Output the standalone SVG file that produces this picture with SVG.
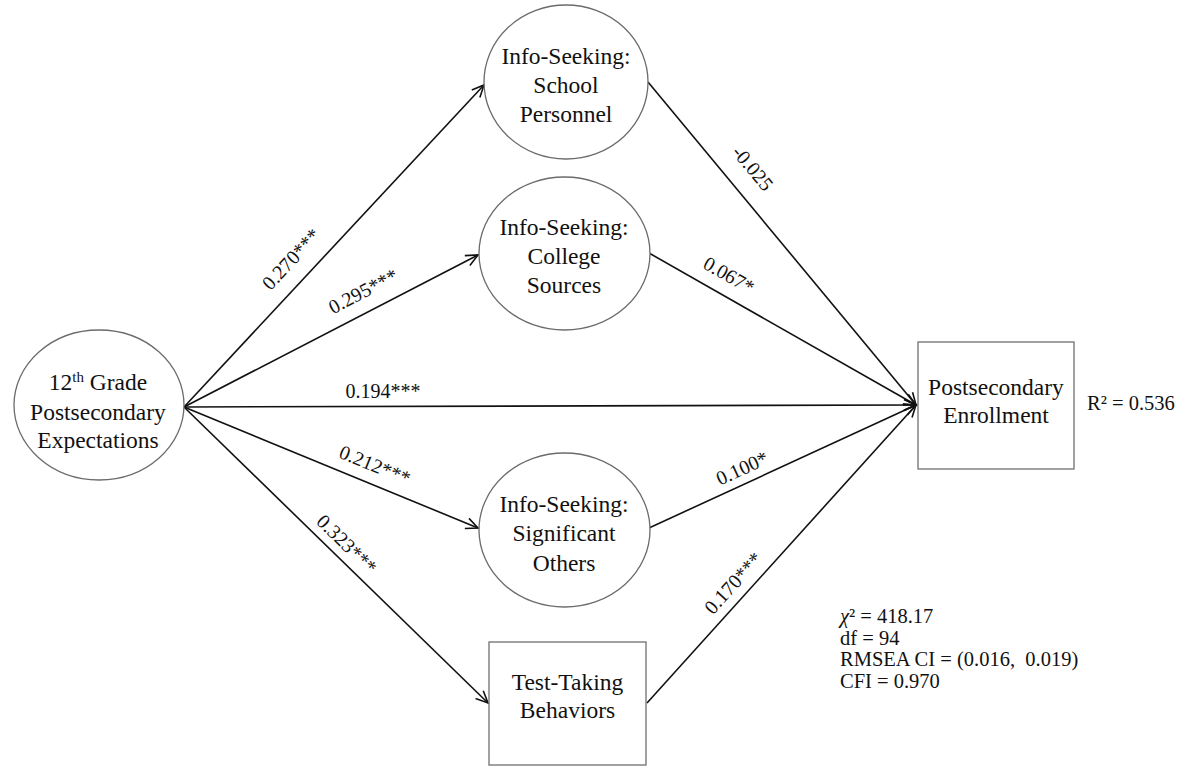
<svg xmlns="http://www.w3.org/2000/svg" width="1194" height="768" viewBox="0 0 1194 768">
  <style>
    .node { fill: #fff; stroke: #6b6b6b; stroke-width: 1.3; }
    .box { fill: #fff; stroke: #7a7a7a; stroke-width: 1.4; }
    .name { font-family: "Liberation Serif", "Times New Roman", serif; font-size: 23.5px; fill: #111; text-anchor: middle; }
    .path { stroke: #111; stroke-width: 1.6; fill: none; marker-end: url(#arrow); }
    .coef { font-family: "Liberation Serif", "Times New Roman", serif; font-size: 20px; fill: #111; text-anchor: middle; }
    .stat { font-family: "Liberation Serif", "Times New Roman", serif; font-size: 20.5px; fill: #111; }
  </style>
  <defs>
    <marker id="arrow" viewBox="-14 -7 16 14" refX="0" refY="0" markerWidth="16" markerHeight="14" markerUnits="userSpaceOnUse" orient="auto">
      <path d="M -12,-5.5 L 0,0 L -12,5.5" fill="none" stroke="#111" stroke-width="1.6"/>
    </marker>
  </defs>
  <rect width="1194" height="768" fill="#fff"/>

  <!-- structural paths -->
  <g id="connectors">
    <line class="path" x1="184" y1="407" x2="484" y2="85"/>
    <line class="path" x1="184" y1="407" x2="478" y2="255"/>
    <line class="path" x1="184" y1="407" x2="916" y2="405"/>
    <line class="path" x1="184" y1="407" x2="478" y2="528"/>
    <line class="path" x1="184" y1="407" x2="488" y2="703"/>
    <line class="path" x1="648" y1="82" x2="916" y2="405"/>
    <line class="path" x1="649" y1="253" x2="916" y2="405"/>
    <line class="path" x1="649" y1="528" x2="916" y2="405"/>
    <line class="path" x1="647" y1="703" x2="916" y2="405"/>

    <!-- path coefficients -->
    <text class="coef" transform="translate(291,259) rotate(-47.1)" y="7">0.270***</text>
    <text class="coef" transform="translate(363,291) rotate(-27.3)" y="7">0.295***</text>
    <text class="coef" x="383" y="398">0.194***</text>
    <text class="coef" transform="translate(375,465) rotate(22.2)" y="7">0.212***</text>
    <text class="coef" transform="translate(347,544) rotate(44.2)" y="7">0.323***</text>
    <text class="coef" transform="translate(753,168) rotate(50.2)" y="7">-0.025</text>
    <text class="coef" transform="translate(729,275) rotate(29.6)" y="7">0.067*</text>
    <text class="coef" transform="translate(742,468) rotate(-24.7)" y="7">0.100*</text>
    <text class="coef" transform="translate(733,583) rotate(-47.8)" y="7">0.170***</text>
  </g>

  <g id="expectations">
    <ellipse class="node" cx="99" cy="405" rx="85" ry="75"/>
    <text class="name" x="98" y="390">12<tspan font-size="15" dy="-8">th</tspan><tspan dy="8"> Grade</tspan></text>
    <text class="name" x="98" y="420">Postsecondary</text>
    <text class="name" x="98" y="448">Expectations</text>
  </g>

  <g id="school-personnel">
    <ellipse class="node" cx="566" cy="82" rx="82" ry="77"/>
    <text class="name" x="566" y="64">Info-Seeking:</text>
    <text class="name" x="566" y="93">School</text>
    <text class="name" x="566" y="122">Personnel</text>
  </g>

  <g id="college-sources">
    <ellipse class="node" cx="564.5" cy="253.5" rx="85.5" ry="76.5"/>
    <text class="name" x="564" y="235">Info-Seeking:</text>
    <text class="name" x="564" y="264">College</text>
    <text class="name" x="564" y="293">Sources</text>
  </g>

  <g id="significant-others">
    <ellipse class="node" cx="564.5" cy="530" rx="85.5" ry="77"/>
    <text class="name" x="564" y="512">Info-Seeking:</text>
    <text class="name" x="564" y="541">Significant</text>
    <text class="name" x="564" y="571">Others</text>
  </g>

  <g id="test-taking">
    <rect class="box" x="489" y="642" width="157" height="123"/>
    <text class="name" x="567.5" y="690">Test-Taking</text>
    <text class="name" x="567.5" y="718">Behaviors</text>
  </g>

  <g id="enrollment">
    <rect class="box" x="918" y="342" width="156" height="127"/>
    <text class="name" x="996" y="395">Postsecondary</text>
    <text class="name" x="996" y="423">Enrollment</text>
    <text class="stat" x="1087" y="410" font-size="21">R² = 0.536</text>
  </g>

  <g id="fit-indices">
    <text class="stat" x="840" y="623"><tspan font-style="italic">χ</tspan>² = 418.17</text>
    <text class="stat" x="840" y="645">df = 94</text>
    <text class="stat" x="840" y="666">RMSEA CI = (0.016,&#160; 0.019)</text>
    <text class="stat" x="840" y="688">CFI = 0.970</text>
  </g>
</svg>
